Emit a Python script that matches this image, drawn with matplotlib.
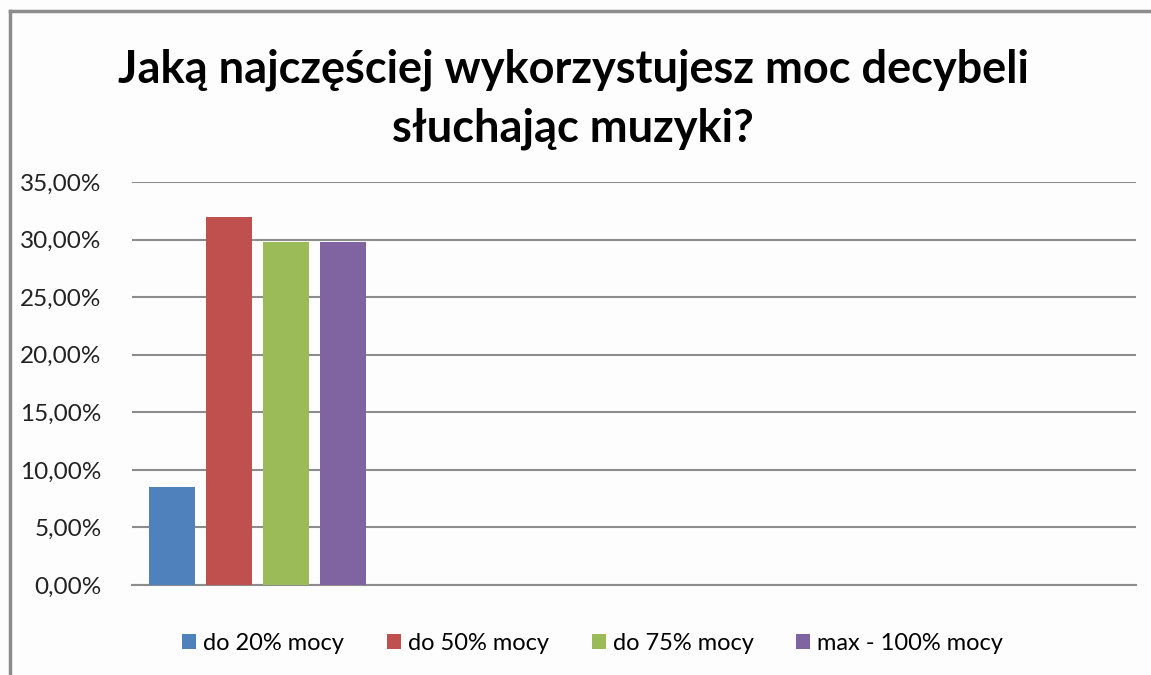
import matplotlib
matplotlib.use("Agg")
import matplotlib.pyplot as plt
from matplotlib.lines import Line2D
from matplotlib.ticker import FuncFormatter

plt.rcParams['font.family'] = ['Lato', 'DejaVu Sans']

# Dane
tytul = "Jaką najczęściej wykorzystujesz moc decybeli\nsłuchając muzyki?"
serie = ["do 20% mocy", "do 50% mocy", "do 75% mocy", "max - 100% mocy"]
wartosci = [8.5, 32.0, 29.8, 29.8]
kolory = ["#4f81bd", "#c0504d", "#9bbb59", "#8064a2"]
kategorie = [0, 1, 2, 3]  # tylko pierwsza kategoria ma dane

fig = plt.figure(figsize=(11.51, 6.75), dpi=100, facecolor="#fdfdfd")
ax = fig.add_axes([0.1147, 0.1333, 0.8723, 0.5971])
ax.set_facecolor("#fdfdfd")

szer = 0.183
krok = 0.226
for i, (nazwa, v, c) in enumerate(zip(serie, wartosci, kolory)):
    ax.bar(kategorie[0] + (i - 1.5) * krok, v, width=szer, color=c, label=nazwa, zorder=3)

ax.set_xlim(-0.5, 3.5)
ax.set_ylim(0, 35)
ax.set_yticks(range(0, 36, 5))
ax.yaxis.set_major_formatter(FuncFormatter(lambda v, p: f"{v:.2f}%".replace(".", ",")))
ax.set_xticks([])
ax.grid(axis="y", color="#8c8c8c", linewidth=1.5, zorder=0)
for s in ["top", "right", "left"]:
    ax.spines[s].set_visible(False)
ax.spines["bottom"].set_color("#8c8c8c")
ax.spines["bottom"].set_linewidth(1.5)
ax.tick_params(axis="y", length=0, pad=22, labelsize=17.5, labelcolor="#222222")

fig.text(0.498, 0.853, tytul, ha="center", va="center", fontsize=32.5, fontweight="bold",
         linespacing=1.5)

leg = fig.legend(loc="center", bbox_to_anchor=(0.515, 0.047), ncol=4, frameon=False,
                 fontsize=17, handlelength=0.6, handleheight=0.6, handletextpad=0.3,
                 columnspacing=1.8)

# ramka wykresu (lewa i górna krawędź)
fig.add_artist(Line2D([0.009, 0.009], [0, 0.984], color="#8c8c8c", linewidth=2.5))
fig.add_artist(Line2D([0.009, 1.0], [0.984, 0.984], color="#8c8c8c", linewidth=2.5))

fig.savefig("out.png", dpi=100, facecolor=fig.get_facecolor())
